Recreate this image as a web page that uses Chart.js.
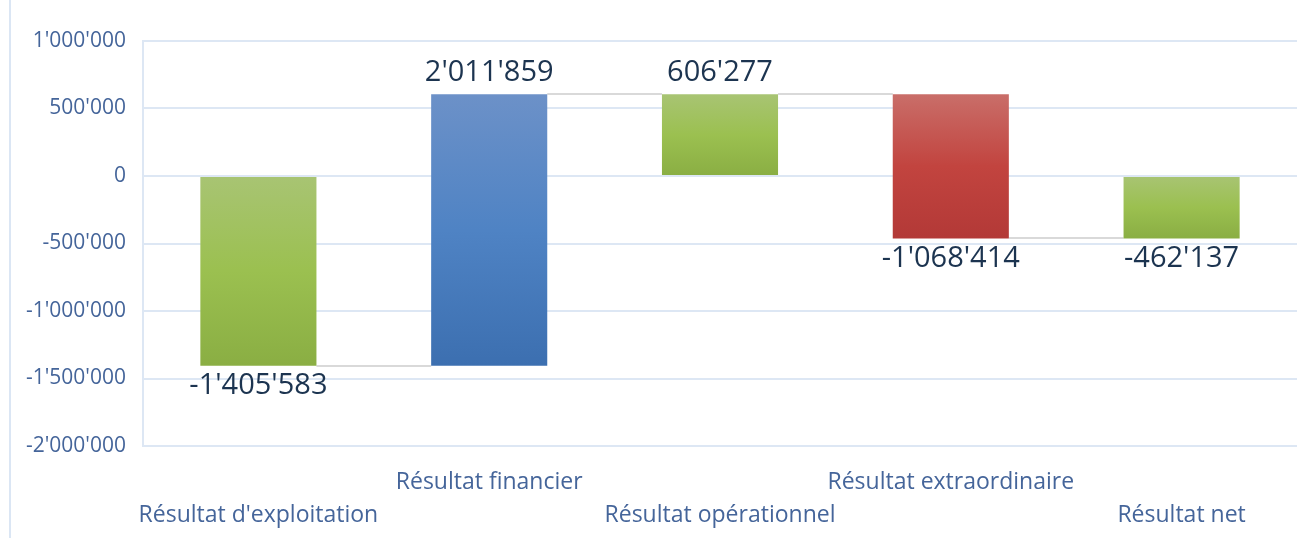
<!DOCTYPE html>
<html>
<head>
<meta charset="utf-8">
<script src="https://cdn.jsdelivr.net/npm/chart.js@4/dist/chart.umd.min.js"></script>
<style>
  html, body { margin: 0; padding: 0; background: #fff; }
  #wrap { position: relative; width: 1304px; height: 538px; }
  #edge { position: absolute; left: 9px; top: 0; width: 2px; height: 538px; background: #dbe6f4; }
  canvas { position: absolute; left: 0; top: 0; }
</style>
</head>
<body>
<div id="wrap">
  <div id="edge"></div>
  <canvas id="chart" width="1304" height="538"></canvas>
</div>
<script>
const categories = [
  "Résultat d'exploitation",
  'Résultat financier',
  'Résultat opérationnel',
  'Résultat extraordinaire',
  'Résultat net',
];
// amount of each step; totals start again from zero
const values = [-1405583, 2011859, 606277, -1068414, -462137];
const isTotal = [false, false, true, false, true];
const barTones = ['green', 'blue', 'green', 'red', 'green'];
const yMin = -2000000;
const yMax = 1000000;
const yStep = 500000;

const TONES = {
  green: ['#a8c473', '#9bc050', '#8aae43'],
  blue: ['#6c91c8', '#4f83c4', '#3c6fb0'],
  red: ['#c96e69', '#c2443f', '#b33937'],
};

const fmt = (v) => {
  const s = String(Math.abs(Math.round(v))).replace(/\B(?=(\d{3})+(?!\d))/g, "'");
  return (v < 0 ? '-' : '') + s;
};

// floating ranges for the waterfall
let running = 0;
const ranges = values.map((v, i) => {
  if (isTotal[i]) {
    running = v;
    return [0, v];
  }
  const r = [running, running + v];
  running += v;
  return r;
});

const barFill = (ctx) => {
  const chart = ctx.chart;
  const tone = TONES[barTones[ctx.dataIndex]] || TONES.green;
  if (!chart.chartArea || ctx.dataIndex === undefined) return tone[1];
  const y = chart.scales.y;
  const [a, b] = ranges[ctx.dataIndex];
  const top = y.getPixelForValue(Math.max(a, b));
  const bot = y.getPixelForValue(Math.min(a, b));
  const g = chart.ctx.createLinearGradient(0, top, 0, bot);
  g.addColorStop(0, tone[0]);
  g.addColorStop(0.5, tone[1]);
  g.addColorStop(1, tone[2]);
  return g;
};

const connectors = {
  id: 'connectors',
  beforeDatasetsDraw(chart) {
    const meta = chart.getDatasetMeta(0);
    const y = chart.scales.y;
    const c = chart.ctx;
    c.save();
    c.strokeStyle = '#d9d9d9';
    c.lineWidth = 2;
    for (let i = 0; i < meta.data.length - 1; i++) {
      const a = meta.data[i], b = meta.data[i + 1];
      const py = Math.round(y.getPixelForValue(ranges[i][1]));
      c.beginPath();
      c.moveTo(a.x + a.width / 2, py);
      c.lineTo(b.x - b.width / 2, py);
      c.stroke();
    }
    c.restore();
  },
};

const valueLabels = {
  id: 'valueLabels',
  afterDatasetsDraw(chart) {
    const meta = chart.getDatasetMeta(0);
    const y = chart.scales.y;
    const c = chart.ctx;
    c.save();
    c.font = '29px "Open Sans"';
    c.fillStyle = '#1c3450';
    c.textAlign = 'center';
    c.textBaseline = 'middle';
    meta.data.forEach((bar, i) => {
      const [a, b] = ranges[i];
      const v = values[i];
      const py = v >= 0 ? y.getPixelForValue(Math.max(a, b)) - 21 : y.getPixelForValue(Math.min(a, b)) + 20;
      c.fillText(fmt(v), bar.x, py);
    });
    c.restore();
  },
};

new Chart(document.getElementById('chart').getContext('2d'), {
  type: 'bar',
  data: {
    labels: categories,
    datasets: [{
      data: ranges,
      backgroundColor: barFill,
      borderWidth: 0,
      categoryPercentage: 1,
      barPercentage: 0.503,
    }],
  },
  options: {
    responsive: false,
    animation: false,
    layout: { padding: { left: 0, right: 7, top: 41, bottom: 0 } },
    plugins: {
      legend: { display: false },
      tooltip: { enabled: false },
    },
    scales: {
      x: {
        grid: { display: false },
        border: { display: false },
        ticks: {
          autoSkip: false,
          maxRotation: 0,
          padding: 12,
          color: '#45659a',
          font: { family: 'Open Sans', size: 23, lineHeight: 33 / 23 },
          callback: (v, i) => (i % 2 === 0 ? ['', categories[i]] : [categories[i]]),
        },
        afterFit: (s) => { s.height = 92; },
      },
      y: {
        min: yMin,
        max: yMax,
        grid: { color: '#dde7f4', lineWidth: 2, drawTicks: false },
        border: { color: '#dde7f4', width: 2 },
        ticks: {
          stepSize: yStep,
          padding: 17,
          color: '#45659a',
          font: { family: 'Open Sans', size: 21 },
          callback: (v) => fmt(v),
        },
        afterFit: (s) => { s.width = 143; },
      },
    },
  },
  plugins: [connectors, valueLabels],
});
</script>
</body>
</html>
